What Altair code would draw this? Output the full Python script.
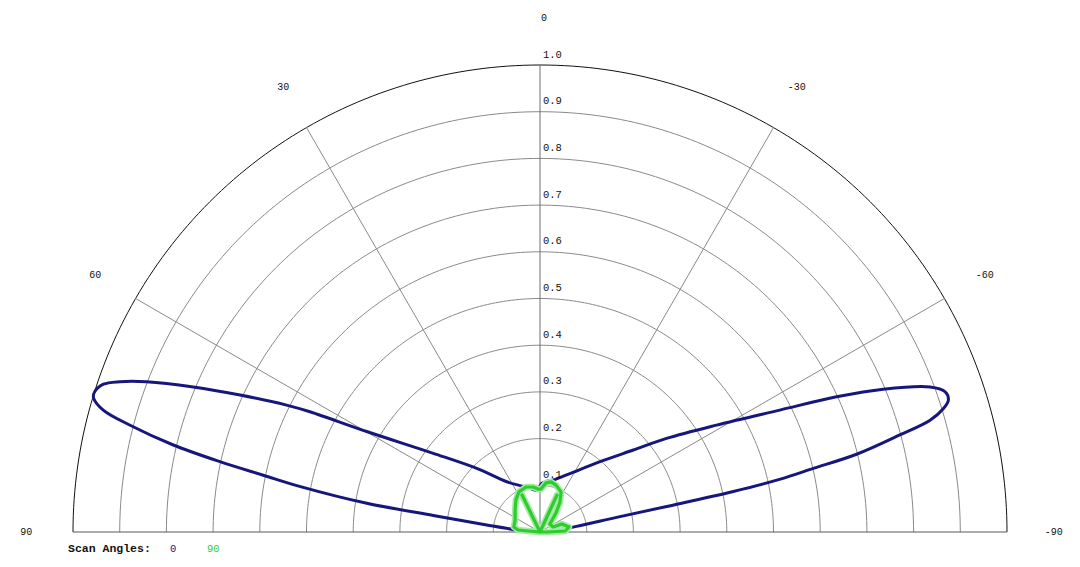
import altair as alt
import pandas as pd
import numpy as np

# ---------------- data ----------------
ring_values = [0.1, 0.2, 0.3, 0.4, 0.5, 0.6, 0.7, 0.8, 0.9, 1.0]
ring_labels = ["0.1", "0.2", "0.3", "0.4", "0.5", "0.6", "0.7", "0.8", "0.9", "1.0"]
spoke_angles = [60, 30, 0, -30, -60]
angle_ticks = [90, 60, 30, -30, -60, -90]
angle_tick_labels = ["90", "60", "30", "-30", "-60", "-90"]

# scan angle 0 (blue) : angle in degrees (positive = left), normalised magnitude
blue_angle = [90, 87.5, 85, 82.5, 81.2, 80.6, 79.3, 78.4, 77.6, 76.65, 75.4, 74.4, 73.3,
              72.6, 71.3, 70.3, 69.1, 67.3, 65.45, 63.4, 62.4, 59.9, 53.6, 44.8, 33.5,
              21.0, 12.9, 6.8, 2.0, -2.0, -8.0, -14.3, -25.0, -40.5, -48.7, -53.5, -58.8,
              -63.05, -65.5, -67.4, -69.6, -70.9, -72.1, -73.0, -74.0, -74.9, -76.2,
              -76.9, -77.6, -78.15, -78.6, -79.2, -81.2, -84.5, -88.0, -90]
blue_r = [0.0, 0.02, 0.05, 0.115, 0.231, 0.376, 0.52, 0.605, 0.702, 0.807, 0.907, 0.971, 0.998,
          1.0, 0.987, 0.955, 0.902, 0.805, 0.706, 0.607, 0.556, 0.429, 0.284, 0.192, 0.129,
          0.105, 0.096, 0.09, 0.092, 0.104, 0.11, 0.115, 0.135, 0.198, 0.266, 0.337, 0.442,
          0.576, 0.698, 0.796, 0.891, 0.918, 0.919, 0.903, 0.869, 0.798, 0.698,
          0.601, 0.527, 0.423, 0.277, 0.167, 0.079, 0.025, 0.008, 0.0]

# scan angle 90 (green)
green_angle = [0, 85.2, 84.8, 79, 64.4, 48.7, 36.9, 27.7, 17.3, 8.8, 2.7, -1.3, -7, -12.4,
               -18.8, -27.7, -33.7, -40.1, -51.3, -69, -70, -80.2, -87.7, -90, 0,
               25.9, 0, -24.7, 0]
green_r = [0.0, 0.026, 0.047, 0.057, 0.059, 0.071, 0.086, 0.097, 0.101, 0.0975, 0.092, 0.092,
           0.106, 0.11, 0.106, 0.097, 0.077, 0.053, 0.027, 0.03, 0.05, 0.063, 0.054, 0.017,
           0.0, 0.088, 0.0, 0.087, 0.0]

legend_title = "Scan Angles:"
series_names = ["0", "90"]
series_colors = ["#16167c", "#2ecc2e"]

# ---------------- layout ----------------
W, H = 1064, 548
X_DOM = [-1.1392, 1.1392]
Y_DOM = [-0.05137, 1.12206]
FONT = "Liberation Mono"

xs = alt.Scale(domain=X_DOM, nice=False, zero=False)
ys = alt.Scale(domain=Y_DOM, nice=False, zero=False)
X = alt.X("x:Q", scale=xs, axis=None)
Y = alt.Y("y:Q", scale=ys, axis=None)


def polar(ch):
    return ch.transform_calculate(
        x="-datum.r*sin(datum.a*PI/180)",
        y="datum.r*cos(datum.a*PI/180)",
    )


# rings (grid)
grid_angles = np.arange(-90, 90.5, 1.0)
ring_df = pd.DataFrame(
    [{"ring": rv, "a": a, "r": rv} for rv in ring_values for a in grid_angles]
)
rings = polar(alt.Chart(ring_df)).mark_line(strokeWidth=1).encode(
    x=X, y=Y, detail="ring:N", order="a:Q",
    color=alt.condition("datum.ring >= 1", alt.value("#111111"), alt.value("#8a8a8a")),
    strokeWidth=alt.condition("datum.ring >= 1", alt.value(1.4), alt.value(1)),
)

# spokes
spoke_df = pd.DataFrame({"a": spoke_angles, "r": [1.0] * len(spoke_angles)})
spokes = polar(alt.Chart(spoke_df)).transform_calculate(x0="0", y0="0").mark_rule(
    strokeWidth=1
).encode(
    x=alt.X("x0:Q", scale=xs, axis=None), y=alt.Y("y0:Q", scale=ys, axis=None),
    x2="x:Q", y2="y:Q",
    color=alt.condition("datum.a == 0", alt.value("#6e6e6e"), alt.value("#8a8a8a")),
)

# baseline
base_df = pd.DataFrame({"a": [90, -90], "r": [1.0, 1.0]})
baseline = polar(alt.Chart(base_df)).mark_line(color="#5a5a5a", strokeWidth=1.2).encode(
    x=X, y=Y, order="a:Q"
)

# curves
blue_df = pd.DataFrame({"a": blue_angle, "r": blue_r, "i": range(len(blue_angle))})
green_df = pd.DataFrame({"a": green_angle, "r": green_r, "i": range(len(green_angle))})

green_halo = polar(alt.Chart(green_df)).mark_line(
    color="#a3eaa3", strokeWidth=6.5, interpolate="linear", strokeJoin="round"
).encode(x=X, y=Y, order="i:Q")
green_line = polar(alt.Chart(green_df)).mark_line(
    color=series_colors[1], strokeWidth=3.2, interpolate="linear", strokeJoin="round"
).encode(x=X, y=Y, order="i:Q")
blue_line = polar(alt.Chart(blue_df)).mark_line(
    color=series_colors[0], strokeWidth=3, interpolate="catmull-rom", strokeJoin="round"
).encode(x=X, y=Y, order="i:Q")

# angle labels
ang_df = pd.DataFrame({"a": angle_ticks, "r": [1.1] * len(angle_ticks), "t": angle_tick_labels})
ang_text = polar(alt.Chart(ang_df)).mark_text(
    font=FONT, fontSize=10, color="#111111", align="center", baseline="middle"
).encode(x=X, y=Y, text="t:N")
zero_df = pd.DataFrame({"a": [0], "r": [1.1], "t": ["0"]})
zero_text = polar(alt.Chart(zero_df)).mark_text(
    font=FONT, fontSize=10, color="#111111", align="center", baseline="middle", dx=4
).encode(x=X, y=Y, text="t:N")

# ring labels
rl_df = pd.DataFrame({"a": [0] * len(ring_values), "r": ring_values, "t": ring_labels})
ring_text = polar(alt.Chart(rl_df)).mark_text(
    font=FONT, fontSize=10.5, color="#111111", align="left", baseline="middle", dx=3, dy=-10.5
).encode(x=X, y=Y, text="t:N")

# legend
LEG_Y = 541
leg_title = alt.Chart(pd.DataFrame({"t": [legend_title]})).mark_text(
    font=FONT, fontSize=11.5, fontWeight="bold", color="#111111", align="left", baseline="middle"
).encode(x=alt.value(60), y=alt.value(LEG_Y), text="t:N")
leg0 = alt.Chart(pd.DataFrame({"t": [series_names[0]]})).mark_text(
    font=FONT, fontSize=10.5, color=series_colors[0], align="left", baseline="middle"
).encode(x=alt.value(162), y=alt.value(LEG_Y), text="t:N")
leg1 = alt.Chart(pd.DataFrame({"t": [series_names[1]]})).mark_text(
    font=FONT, fontSize=10.5, color=series_colors[1], align="left", baseline="middle"
).encode(x=alt.value(199), y=alt.value(LEG_Y), text="t:N")

chart = alt.layer(
    rings, spokes, baseline, blue_line, green_halo, green_line,
    ang_text, zero_text, ring_text, leg_title, leg0, leg1,
).properties(
    width=W, height=H, padding=0, background="white",
    autosize=alt.AutoSizeParams(type="none"),
).configure_view(stroke=None)

chart.save("out.html", embed_options={"renderer": "svg", "actions": False})
